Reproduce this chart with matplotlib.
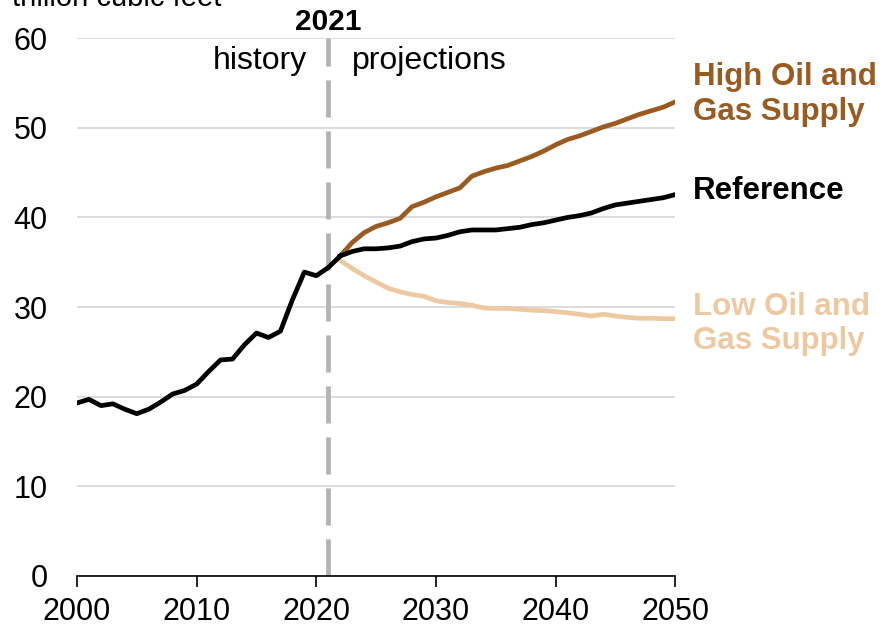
import matplotlib
matplotlib.use("Agg")
import matplotlib.pyplot as plt

plt.rcParams['font.family'] = ['Liberation Sans', 'DejaVu Sans']

hist_years = list(range(2000, 2023))
hist_values = [19.3, 19.7, 19.0, 19.2, 18.6, 18.1, 18.6, 19.4, 20.3, 20.7,
               21.4, 22.8, 24.1, 24.2, 25.8, 27.1, 26.6, 27.3, 30.8, 33.9,
               33.5, 34.4, 35.7]

proj_years = list(range(2022, 2051))
reference = [35.7, 36.2, 36.5, 36.5, 36.6, 36.8, 37.3, 37.6, 37.7, 38.0,
             38.4, 38.6, 38.6, 38.6, 38.75, 38.9, 39.2, 39.4, 39.7, 40.0,
             40.2, 40.5, 41.0, 41.4, 41.6, 41.8, 42.0, 42.2, 42.55]
high_supply = [35.7, 37.2, 38.3, 39.0, 39.4, 39.9, 41.2, 41.7, 42.3, 42.8,
               43.3, 44.6, 45.1, 45.5, 45.8, 46.3, 46.8, 47.4, 48.1, 48.7,
               49.1, 49.6, 50.1, 50.5, 51.0, 51.5, 51.9, 52.3, 52.9]
low_supply = [35.2, 34.3, 33.5, 32.8, 32.1, 31.7, 31.4, 31.2, 30.7, 30.5,
              30.4, 30.2, 29.9, 29.85, 29.85, 29.75, 29.65, 29.6, 29.5, 29.35,
              29.2, 29.0, 29.2, 29.0, 28.85, 28.75, 28.75, 28.7, 28.7]

series_labels = ["High Oil and\nGas Supply", "Reference", "Low Oil and\nGas Supply"]
colors = ["#9A5B22", "#000000", "#EDC9A1"]

fig = plt.figure(figsize=(8.85, 6.26), dpi=100)
ax = fig.add_axes([0.087, 0.08, 0.676, 0.859])

ax.set_xlim(2000, 2050)
ax.set_ylim(0, 60)
ax.set_yticks(range(0, 61, 10))
ax.set_xticks(range(2000, 2051, 10))
ax.grid(axis='y', color='#d9d9d9', linewidth=1.3)
ax.set_axisbelow(True)
for s in ['top', 'right', 'left']:
    ax.spines[s].set_visible(False)
ax.spines['bottom'].set_linewidth(1.2)
ax.tick_params(axis='y', length=0, pad=21, labelsize=22)
ax.tick_params(axis='x', length=8, width=1.2, pad=7, labelsize=22, direction='out')

# history / projections divider
ax.axvline(2021, color='#b3b3b3', linewidth=3.4, dashes=(7.85, 2.95), zorder=1)

ax.plot(proj_years, low_supply, color=colors[2], linewidth=3.4, zorder=3)
ax.plot(proj_years, high_supply, color=colors[0], linewidth=3.4, zorder=3)
ax.plot(proj_years, reference, color=colors[1], linewidth=3.4, zorder=4)
ax.plot(hist_years, hist_values, color='#000000', linewidth=3.4, zorder=5)

ax.text(2019.2, 57.4, "history", ha='right', va='center', fontsize=23)
ax.text(2023.0, 57.4, "projections", ha='left', va='center', fontsize=23)
ax.text(2021, 61.8, "2021", ha='center', va='center', fontsize=21.5, fontweight='bold')

label_y = [53.7, 42.9, 28.1]
for lab, col, yy in zip(series_labels, colors, label_y):
    ax.text(2051.5, yy, lab, ha='left', va='center', fontsize=22.5,
            fontweight='bold', color=col, linespacing=1.2)

fig.text(0.0135, 0.991, "trillion cubic feet", ha='left', va='baseline', fontsize=21)

fig.savefig("out.png", dpi=100)
